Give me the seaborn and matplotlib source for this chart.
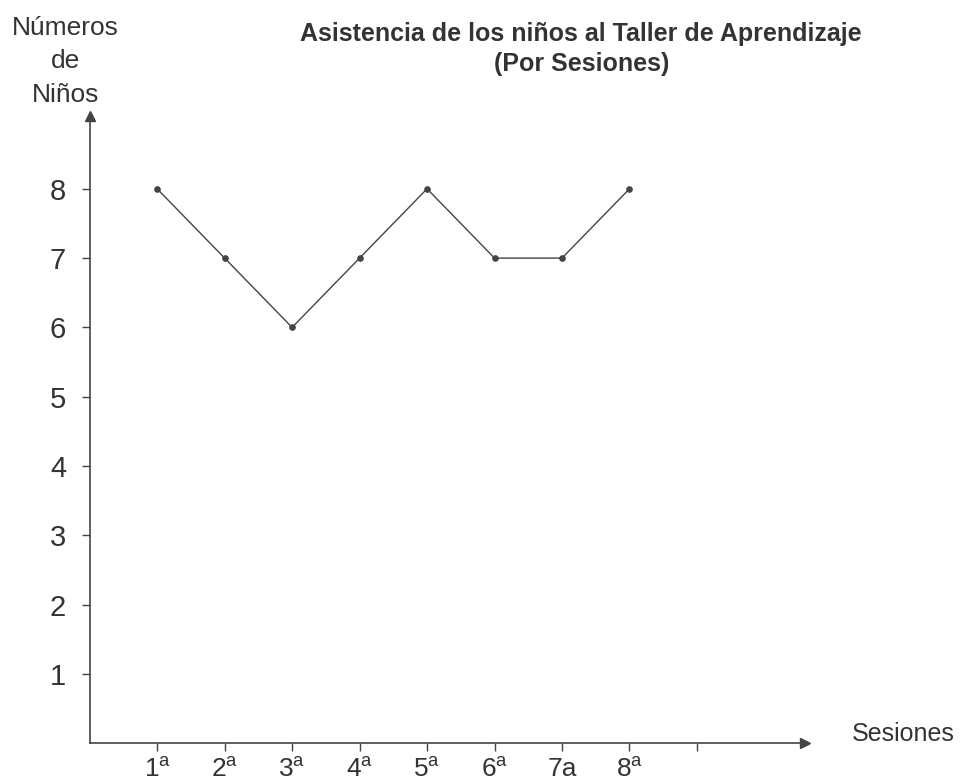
import matplotlib
matplotlib.use("Agg")
import matplotlib.pyplot as plt
import seaborn as sns
import pandas as pd

# datos
sesiones = [1, 2, 3, 4, 5, 6, 7, 8]
ninos = [8, 7, 6, 7, 8, 7, 7, 8]
etiquetas_x = [r"1$^{\mathrm{a}}$", r"2$^{\mathrm{a}}$", r"3$^{\mathrm{a}}$", r"4$^{\mathrm{a}}$",
               r"5$^{\mathrm{a}}$", r"6$^{\mathrm{a}}$", "7a", r"8$^{\mathrm{a}}$", ""]
ticks_y = [1, 2, 3, 4, 5, 6, 7, 8]

sns.set_style("ticks")
plt.rcParams["font.family"] = ["Liberation Sans", "DejaVu Sans"]
plt.rcParams["mathtext.fontset"] = "custom"
plt.rcParams["mathtext.rm"] = "Liberation Sans"
gris = "#333333"

df = pd.DataFrame({"Sesion": sesiones, "Ninos": ninos})

fig = plt.figure(figsize=(9.64, 7.84), dpi=100)
ax = fig.add_axes([0.093, 0.052, 0.742, 0.80])

sns.lineplot(data=df, x="Sesion", y="Ninos", ax=ax, color="#444444", linewidth=1.0,
             marker="o", markersize=4, markeredgecolor="#444444")

ax.set_xlim(0, 10.6)
ax.set_ylim(0, 9.05)
ax.set_xticks(range(1, 10))
ax.set_xticklabels(etiquetas_x, fontsize=19, color=gris)
ax.set_yticks(ticks_y)
ax.set_yticklabels([str(t) for t in ticks_y], fontsize=21, color=gris)
ax.tick_params(axis="both", length=6, width=1, colors="#444444", labelcolor=gris, pad=4)
ax.tick_params(axis="y", pad=11)
ax.set_xlabel("")
ax.set_ylabel("")

sns.despine(ax=ax)
for s in ["left", "bottom"]:
    ax.spines[s].set_color("#444444")
    ax.spines[s].set_linewidth(1.2)

# flechas de los ejes
ax.plot(1, 0, ">", color="#444444", markersize=7, transform=ax.get_yaxis_transform(), clip_on=False)
ax.plot(0, 1, "^", color="#444444", markersize=7, transform=ax.get_xaxis_transform(), clip_on=False)

fig.text(0.603, 0.972, "Asistencia de los niños al Taller de Aprendizaje\n(Por Sesiones)",
         ha="center", va="top", fontsize=18, fontweight="bold", color=gris, linespacing=1.3)
fig.text(0.068, 0.98, "Números\nde\nNiños", ha="center", va="top", fontsize=19,
         color=gris, linespacing=1.5)
fig.text(0.937, 0.064, "Sesiones", ha="center", va="center", fontsize=18, color=gris)

fig.savefig("out.png", dpi=100, facecolor="white")
